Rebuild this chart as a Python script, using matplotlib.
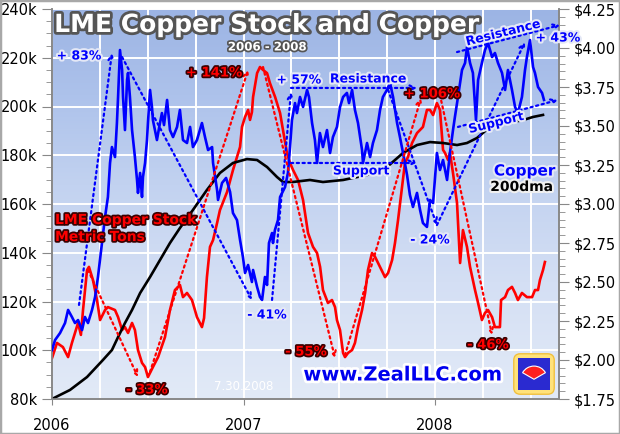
import matplotlib
matplotlib.use("Agg")
import matplotlib.pyplot as plt
import matplotlib.patheffects as pe
import numpy as np
from matplotlib.ticker import MultipleLocator, FuncFormatter, FixedLocator
from matplotlib.colors import LinearSegmentedColormap
from matplotlib.patches import Rectangle, FancyBboxPatch, Wedge

# years after 2006-01-01
stock_t = [0.000, 0.026, 0.057, 0.084, 0.104, 0.136, 0.151, 0.162, 0.183, 0.193, 0.214, 0.235, 0.251, 0.277,
           0.292, 0.329, 0.345, 0.366, 0.381, 0.397, 0.418, 0.433, 0.449, 0.470, 0.486, 0.501, 0.527, 0.554,
           0.590, 0.616, 0.642, 0.668, 0.684, 0.705, 0.731, 0.757, 0.783, 0.794, 0.809, 0.825, 0.841, 0.862,
           0.877, 0.914, 0.945, 0.982, 0.992, 1.008, 1.024, 1.034, 1.044, 1.050, 1.071, 1.086, 1.102, 1.123,
           1.138, 1.165, 1.191, 1.206, 1.227, 1.243, 1.259, 1.285, 1.311, 1.337, 1.363, 1.384, 1.400, 1.415,
           1.441, 1.462, 1.478, 1.488, 1.504, 1.520, 1.530, 1.546, 1.567, 1.582, 1.598, 1.619, 1.635, 1.650,
           1.671, 1.687, 1.713, 1.739, 1.755, 1.776, 1.791, 1.807, 1.828, 1.843, 1.859, 1.880, 1.906, 1.922,
           1.937, 1.958, 1.974, 1.990, 2.010, 2.026, 2.042, 2.052, 2.068, 2.078, 2.094, 2.115, 2.131, 2.146,
           2.167, 2.183, 2.209, 2.225, 2.245, 2.261, 2.277, 2.298, 2.313, 2.339, 2.345, 2.366, 2.381, 2.402,
           2.418, 2.433, 2.454, 2.480, 2.507, 2.522, 2.538, 2.548, 2.564, 2.574]
# LME copper stock, thousand metric tons
stock_k = [96.8, 103.0, 101.3, 97.2, 103.0, 111.2, 106.3, 116.5, 132.9, 134.2, 128.8, 120.6, 112.4, 116.5,
           117.7, 116.5, 113.6, 108.3, 109.5, 107.1, 111.2, 108.3, 100.1, 94.8, 93.1, 89.0, 93.1, 97.2,
           105.4, 116.5, 124.7, 126.8, 121.8, 123.5, 120.6, 113.6, 109.5, 113.2, 130.0, 142.4, 145.2, 152.2,
           157.5, 164.9, 173.9, 183.4, 191.6, 195.7, 198.6, 194.5, 197.7, 203.9, 213.7, 216.2, 215.0, 213.7,
           209.6, 203.9, 197.3, 190.4, 180.9, 176.8, 173.9, 169.8, 161.6, 148.1, 142.4, 139.9, 134.2, 124.7,
           119.4, 120.6, 117.7, 112.4, 108.3, 98.9, 97.2, 98.9, 100.1, 103.0, 109.5, 116.5, 123.5, 132.9,
           139.9, 138.3, 134.2, 130.0, 131.7, 137.0, 144.0, 153.4, 167.0, 176.8, 179.3, 185.0, 189.1, 190.4,
           191.6, 198.6, 198.6, 196.5, 201.4, 198.6, 182.2, 181.0, 178.1, 181.0, 172.7, 160.4, 135.8, 149.3,
           142.4, 134.2, 124.7, 119.4, 112.4, 115.3, 116.5, 113.6, 109.5, 109.5, 120.6, 121.8, 124.7, 126.0,
           123.5, 120.6, 123.5, 121.8, 121.8, 124.7, 124.7, 128.8, 132.9, 136.2]

copper_t = [0.000, 0.016, 0.042, 0.068, 0.084, 0.104, 0.120, 0.136, 0.157, 0.172, 0.188, 0.209, 0.225, 0.240,
            0.261, 0.277, 0.292, 0.303, 0.313, 0.329, 0.339, 0.345, 0.355, 0.366, 0.371, 0.381, 0.392, 0.397,
            0.407, 0.418, 0.433, 0.444, 0.449, 0.460, 0.470, 0.475, 0.486, 0.496, 0.501, 0.512, 0.522, 0.527,
            0.548, 0.559, 0.574, 0.585, 0.601, 0.616, 0.632, 0.653, 0.668, 0.684, 0.705, 0.721, 0.736, 0.757,
            0.783, 0.799, 0.815, 0.836, 0.841, 0.862, 0.867, 0.888, 0.909, 0.930, 0.945, 0.966, 0.982, 0.997,
            1.008, 1.024, 1.044, 1.050, 1.071, 1.086, 1.097, 1.107, 1.112, 1.123, 1.133, 1.149, 1.154, 1.164,
            1.180, 1.191, 1.217, 1.232, 1.243, 1.253, 1.269, 1.279, 1.295, 1.311, 1.332, 1.342, 1.358, 1.373,
            1.384, 1.399, 1.415, 1.436, 1.452, 1.467, 1.488, 1.504, 1.520, 1.540, 1.551, 1.567, 1.582, 1.598,
            1.619, 1.624, 1.645, 1.661, 1.676, 1.697, 1.713, 1.728, 1.749, 1.765, 1.781, 1.802, 1.817, 1.833,
            1.854, 1.869, 1.885, 1.906, 1.922, 1.937, 1.958, 1.974, 1.990, 2.010, 2.026, 2.042, 2.063, 2.078,
            2.094, 2.104, 2.120, 2.141, 2.157, 2.167, 2.183, 2.198, 2.214, 2.225, 2.245, 2.261, 2.277, 2.298,
            2.313, 2.329, 2.350, 2.366, 2.381, 2.402, 2.418, 2.433, 2.454, 2.470, 2.480, 2.496, 2.512, 2.522,
            2.538, 2.559, 2.569]
# copper price, US$ per pound
copper_usd = [2.064, 2.128, 2.173, 2.237, 2.321, 2.276, 2.237, 2.256, 2.192, 2.276, 2.237, 2.321, 2.404, 2.532,
              2.750, 2.917, 3.045, 3.263, 3.365, 3.301, 3.519, 3.686, 3.987, 3.859, 3.686, 3.474, 3.795, 3.840,
              3.686, 3.474, 3.301, 3.154, 3.071, 3.199, 3.045, 3.173, 3.263, 3.410, 3.519, 3.731, 3.622, 3.538,
              3.410, 3.487, 3.583, 3.506, 3.667, 3.474, 3.429, 3.494, 3.603, 3.410, 3.391, 3.494, 3.365, 3.410,
              3.519, 3.429, 3.346, 3.365, 3.263, 3.090, 3.026, 3.135, 3.167, 3.077, 2.942, 2.897, 2.769, 2.660,
              2.558, 2.609, 2.500, 2.577, 2.468, 2.404, 2.385, 2.481, 2.532, 2.481, 2.750, 2.814, 2.750, 2.833,
              2.897, 3.045, 3.109, 3.199, 3.365, 3.538, 3.647, 3.583, 3.686, 3.622, 3.731, 3.686, 3.519, 3.410,
              3.263, 3.455, 3.365, 3.474, 3.327, 3.429, 3.494, 3.622, 3.686, 3.712, 3.647, 3.731, 3.603, 3.519,
              3.346, 3.263, 3.391, 3.301, 3.391, 3.474, 3.603, 3.686, 3.731, 3.776, 3.686, 3.519, 3.429, 3.327,
              3.186, 3.058, 2.981, 3.071, 2.962, 2.878, 2.853, 3.026, 3.006, 3.327, 3.218, 3.282, 3.154, 3.327,
              3.474, 3.558, 3.686, 3.859, 3.904, 4.006, 3.904, 3.840, 3.538, 3.795, 3.904, 3.987, 4.032, 3.942,
              3.968, 3.904, 3.840, 3.731, 3.859, 3.731, 3.622, 3.583, 3.686, 3.859, 3.942, 4.051, 3.878, 3.840,
              3.750, 3.712, 3.667]

dma_t = [0.000, 0.042, 0.094, 0.183, 0.266, 0.313, 0.345, 0.381, 0.418, 0.460, 0.512, 0.564, 0.616, 0.668,
         0.736, 0.809, 0.877, 0.945, 1.018, 1.071, 1.123, 1.175, 1.206, 1.258, 1.347, 1.415, 1.520, 1.645,
         1.749, 1.833, 1.906, 1.974, 2.042, 2.115, 2.167, 2.219, 2.287, 2.376, 2.460, 2.512, 2.564]
# copper 200-day moving average, US$
dma_usd = [1.750, 1.776, 1.808, 1.891, 2.000, 2.064, 2.147, 2.237, 2.321, 2.429, 2.532, 2.641, 2.750, 2.846,
           2.962, 3.090, 3.199, 3.263, 3.288, 3.282, 3.237, 3.173, 3.141, 3.141, 3.154, 3.141, 3.154, 3.186,
           3.237, 3.327, 3.378, 3.397, 3.391, 3.378, 3.391, 3.423, 3.494, 3.519, 3.538, 3.558, 3.571]

# trend arrows (t0, v0, t1, v1)
copper_arrows = [(0.141, 2.353, 0.313, 3.968), (0.366, 3.942, 1.044, 2.385), (1.149, 2.385, 1.248, 3.718),
                 (1.248, 3.744, 1.906, 3.744), (1.248, 3.263, 1.901, 3.263), (1.755, 3.731, 2.010, 2.865),
                 (2.010, 2.865, 2.470, 4.038), (2.115, 3.974, 2.653, 4.147), (2.120, 3.494, 2.642, 3.667)]
stock_arrows = [(0.188, 132.9, 0.449, 89.0), (0.512, 91.1, 1.024, 215.0), (1.102, 216.2, 1.478, 96.8),
                (1.530, 98.0, 1.927, 203.5), (2.026, 204.7, 2.298, 106.3)]

W, H = 620, 434


def px(x, y):
    return x / W, 1 - y / H


fig = plt.figure(figsize=(6.2, 4.34), dpi=100)
fig.patch.set_facecolor("white")
ax = fig.add_axes([52 / W, 1 - 399 / H, 507 / W, 390 / H])
ax2 = ax.twinx()

x0, x1 = 2006.0, 2006 + 507 / 191.5
cmap = LinearSegmentedColormap.from_list("bg", [(0, "#e2eaf7"), (0.3, "#d4dff4"), (0.55, "#c2d2f0"),
                                                (0.78, "#adc2eb"), (1, "#9cb4e4")])
grad = np.linspace(0, 1, 256).reshape(-1, 1)
ax.imshow(grad, cmap=cmap, origin="lower", extent=[x0, x1, 80, 240], aspect="auto", zorder=0)
ax.set_axisbelow(True)

ax.plot(2006 + np.array(stock_t), stock_k, color="#ff0000", lw=1.9, zorder=3)
ax2.plot(2006 + np.array(dma_t), dma_usd, color="black", lw=1.9, zorder=2)
ax2.plot(2006 + np.array(copper_t), copper_usd, color="#0000ff", lw=1.9, zorder=3)

ax.set_xlim(x0, x1)
ax.set_ylim(80, 240)
ax2.set_ylim(1.75, 4.25)

dots = (0, (1, 1.6))
for t0, v0, t1, v1 in copper_arrows:
    ax2.annotate("", xy=(2006 + t1, v1), xytext=(2006 + t0, v0), annotation_clip=False,
                 arrowprops=dict(arrowstyle="->", color="#0000ff", lw=1.6, linestyle=dots,
                                 shrinkA=0, shrinkB=0, mutation_scale=9))
for t0, v0, t1, v1 in stock_arrows:
    ax2.annotate("", xy=(2006 + t1, 1.75 + (v1 - 80) / 64), xytext=(2006 + t0, 1.75 + (v0 - 80) / 64),
                 annotation_clip=False,
                 arrowprops=dict(arrowstyle="->", color="#ff0000", lw=1.6, linestyle=dots,
                                 shrinkA=0, shrinkB=0, mutation_scale=9))

# axes styling
ax.xaxis.set_major_locator(FixedLocator([2006, 2007, 2008]))
ax.xaxis.set_major_formatter(FuncFormatter(lambda v, p: str(int(round(v)))))
ax.xaxis.set_minor_locator(MultipleLocator(0.25))
ax.yaxis.set_major_locator(MultipleLocator(20))
ax.yaxis.set_minor_locator(MultipleLocator(5))
ax.yaxis.set_major_formatter(FuncFormatter(lambda v, p: "%dk" % v))
ax2.yaxis.set_major_locator(MultipleLocator(0.25))
ax2.yaxis.set_minor_locator(MultipleLocator(0.05))
ax2.yaxis.set_major_formatter(FuncFormatter(lambda v, p: "$%.2f" % v))

ax.grid(True, which="both", axis="x", color="white", lw=1.4)
ax.grid(True, which="major", axis="y", color="white", lw=1.4)
ax.tick_params(axis="x", which="major", length=4, pad=10, color="#888888", labelsize=10.5)
ax.tick_params(axis="x", which="minor", length=0)
ax.tick_params(axis="y", which="major", length=7, color="#888888", labelsize=10.5)
ax.tick_params(axis="y", which="minor", length=4, color="#888888")
ax2.tick_params(axis="y", which="major", length=7, color="#888888", labelsize=10.5)
ax2.tick_params(axis="y", which="minor", length=4, color="#888888")
for a in (ax, ax2):
    for s in a.spines.values():
        s.set_color("#888888")
        s.set_linewidth(1.2)
    a.spines["top"].set_visible(False)

# texts
halo_b = [pe.withStroke(linewidth=3, foreground="#e4e8f6")]
halo_r = [pe.withStroke(linewidth=2.5, foreground="#3a0000")]
halo_t = [pe.withStroke(linewidth=4, foreground="#555555")]

fig.text(*px(267, 25), "LME Copper Stock and Copper", ha="center", va="center", fontsize=18,
         fontweight="bold", color="white", path_effects=halo_t)
fig.text(*px(267, 47), "2006 - 2008", ha="center", va="center", fontsize=8.5, fontweight="bold",
         color="white", path_effects=[pe.withStroke(linewidth=2.5, foreground="#555555")])

blue_labels = [("+ 83%", 79, 56, 0), ("+ 57%", 299, 80, 0), ("Resistance", 368, 79, 0),
               ("Resistance", 503, 33, 14), ("+ 43%", 558, 38, 0), ("Support", 496, 123, 14),
               ("Support", 361, 171, 0), ("- 24%", 430, 240, 0), ("- 41%", 267, 315, 0)]
for s, x, y, r in blue_labels:
    fig.text(*px(x, y), s, ha="center", va="center", fontsize=9, fontweight="bold", color="#0000ff",
             rotation=r, path_effects=halo_b)

red_labels = [("+ 141%", 214, 73), ("+ 106%", 432, 94), ("- 33%", 147, 390), ("- 55%", 306, 352),
              ("- 46%", 488, 345)]
for s, x, y in red_labels:
    fig.text(*px(x, y), s, ha="center", va="center", fontsize=9.5, fontweight="bold", color="#ff0000",
             path_effects=halo_r)

fig.text(*px(55, 220), "LME Copper Stock", ha="left", va="center", fontsize=10, fontweight="bold",
         color="#ff0000", path_effects=halo_r)
fig.text(*px(55, 237), "Metric Tons", ha="left", va="center", fontsize=10, fontweight="bold",
         color="#ff0000", path_effects=halo_r)
fig.text(*px(555, 171), "Copper", ha="right", va="center", fontsize=11, fontweight="bold",
         color="#0000ff", path_effects=halo_b)
fig.text(*px(553, 187), "200dma", ha="right", va="center", fontsize=10, fontweight="bold",
         color="black", path_effects=[pe.withStroke(linewidth=3, foreground="#f0f0f0")])
fig.text(*px(244, 387), "7.30.2008", ha="center", va="center", fontsize=8.5, color="white")
fig.text(*px(403, 375), "www.ZealLLC.com", ha="center", va="center", fontsize=14, fontweight="bold",
         color="#0000ee", path_effects=[pe.withStroke(linewidth=4, foreground="white")])

# logo
lax = fig.add_axes([512 / W, 1 - 396 / H, 44 / W, 44 / H])
lax.set_xlim(0, 1)
lax.set_ylim(0, 1)
lax.axis("off")
lax.add_patch(FancyBboxPatch((0.04, 0.04), 0.92, 0.92, boxstyle="round,pad=0,rounding_size=0.15",
                             fc="#ffe27a", ec="#f0c040", lw=1))
lax.add_patch(Rectangle((0.14, 0.14), 0.72, 0.72, fc="#2a2ad0", ec="none"))
lax.add_patch(Wedge((0.5, 0.38), 0.3, 30, 150, fc="#ff2020", ec="white", lw=0.8))

fig.patches.append(Rectangle((0, 0), 1, 1, transform=fig.transFigure, fill=False,
                             edgecolor="#a8a8a8", lw=2.5))

fig.savefig("out.png", dpi=100)
